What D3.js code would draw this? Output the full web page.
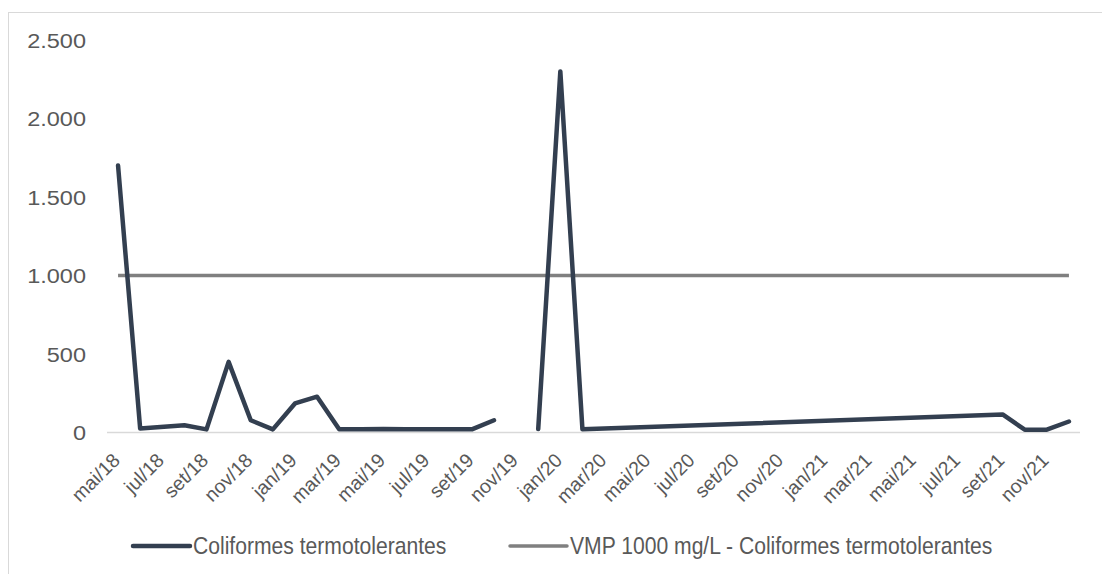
<!DOCTYPE html>
<html>
<head>
<meta charset="utf-8">
<script src="https://cdn.jsdelivr.net/npm/d3@7"></script>
<style>
  html, body { margin: 0; padding: 0; background: #fff; }
  svg { display: block; font-family: "Liberation Sans", Arial, sans-serif; }
</style>
</head>
<body>
<svg id="chart" width="1102" height="574"></svg>
<script>
// Every month on the category axis (mai/18 .. dez/21)
const months = [
  "mai/18","jun/18","jul/18","ago/18","set/18","out/18","nov/18","dez/18",
  "jan/19","fev/19","mar/19","abr/19","mai/19","jun/19","jul/19","ago/19","set/19","out/19","nov/19","dez/19",
  "jan/20","fev/20","mar/20","abr/20","mai/20","jun/20","jul/20","ago/20","set/20","out/20","nov/20","dez/20",
  "jan/21","fev/21","mar/21","abr/21","mai/21","jun/21","jul/21","ago/21","set/21","out/21","nov/21","dez/21"
];

// Months that have a sample, and the measured coliform counts (null = no result)
const sampleMonths = [
  "mai/18","jun/18","ago/18","set/18","out/18","nov/18","dez/18",
  "jan/19","fev/19","mar/19","abr/19","mai/19","jun/19","jul/19","ago/19","set/19","out/19","nov/19","dez/19",
  "jan/20","fev/20","set/21","out/21","nov/21","dez/21"
];
const coliformes = [
  1700, 25, 46, 20, 450, 78, 20,
  185, 228, 20, 20, 22, 20, 20, 20, 20, 78, null, 22,
  2300, 20, 115, 18, 18, 70
];

// Reference limit
const vmpValue = 1000;

// Axis ticks
const yTicks = [0, 500, 1000, 1500, 2000, 2500];
const xTickLabels = months.filter((m, i) => i % 2 === 0);

const seriesNames = ["Coliformes termotolerantes", "VMP 1000 mg/L - Coliformes termotolerantes"];
const colors = ["#333f50", "#808080"];

const svg = d3.select("#chart");
const W = 1102, H = 574;

// Outer chart frame
svg.append("rect")
  .attr("x", 8.5).attr("y", 12.5)
  .attr("width", W + 20).attr("height", H + 20)
  .attr("fill", "none").attr("stroke", "#d9d9d9").attr("stroke-width", 1);

const plot = { left: 107, right: 1080, top: 40, bottom: 432.5 };

const x = d3.scaleBand().domain(months).range([plot.left, plot.right]).padding(0);
const y = d3.scaleLinear().domain([0, 2500]).range([plot.bottom, plot.top]);
const cx = m => x(m) + x.bandwidth() / 2;

const fmt = v => d3.format(",")(v).replace(/,/g, ".");

// Y axis labels (slightly widened glyphs)
const yAxis = d3.axisLeft(y).tickValues(yTicks).tickSize(0).tickPadding(0).tickFormat(fmt);
const gy = svg.append("g").attr("transform", `translate(86,0)`).call(yAxis);
gy.select(".domain").remove();
gy.selectAll(".tick text")
  .attr("x", null).attr("dy", null)
  .attr("font-size", 21).attr("fill", "#595959")
  .attr("font-family", "'Liberation Sans', Arial, sans-serif")
  .attr("dominant-baseline", "central")
  .attr("transform", "scale(1.12,1)");

// X axis line
svg.append("line")
  .attr("x1", plot.left).attr("x2", plot.right)
  .attr("y1", y(0)).attr("y2", y(0))
  .attr("stroke", "#d9d9d9").attr("stroke-width", 1.5);

// X tick labels, rotated
const xAxis = d3.axisBottom(x).tickValues(xTickLabels).tickSize(0).tickPadding(0);
const gx = svg.append("g").attr("transform", `translate(0,${y(0)})`).call(xAxis);
gx.select(".domain").remove();
gx.selectAll("text")
  .attr("font-size", 19.5).attr("fill", "#595959")
  .attr("font-family", "'Liberation Sans', Arial, sans-serif")
  .attr("text-anchor", "end")
  .attr("dy", null)
  .attr("y", null)
  .attr("transform", "translate(3,29) rotate(-45)");

// VMP reference line
svg.append("line")
  .attr("x1", cx(months[0])).attr("x2", cx(months[months.length - 1]))
  .attr("y1", y(vmpValue)).attr("y2", y(vmpValue))
  .attr("stroke", colors[1]).attr("stroke-width", 3.5);

// Coliform series
const data = sampleMonths.map((m, i) => ({ m, v: coliformes[i] }));
const line = d3.line()
  .defined(d => d.v != null)
  .x(d => cx(d.m))
  .y(d => y(d.v));
svg.append("path")
  .datum(data)
  .attr("d", line)
  .attr("fill", "none")
  .attr("stroke", colors[0])
  .attr("stroke-width", 4.5)
  .attr("stroke-linejoin", "round")
  .attr("stroke-linecap", "round");

// Legend (narrow, tall lettering)
const legendY = 546;
const legendItems = [
  { name: seriesNames[0], color: colors[0], x0: 133, width: 4.5 },
  { name: seriesNames[1], color: colors[1], x0: 510, width: 3.5 }
];
const lg = svg.append("g");
legendItems.forEach(it => {
  lg.append("line")
    .attr("x1", it.x0).attr("x2", it.x0 + 57)
    .attr("y1", legendY).attr("y2", legendY)
    .attr("stroke", it.color).attr("stroke-width", it.width)
    .attr("stroke-linecap", "round");
  lg.append("text")
    .attr("transform", `translate(${it.x0 + 60},${legendY}) scale(0.88,1)`)
    .attr("dominant-baseline", "central")
    .attr("font-size", 24).attr("fill", "#595959")
    .text(it.name);
});
</script>
</body>
</html>
